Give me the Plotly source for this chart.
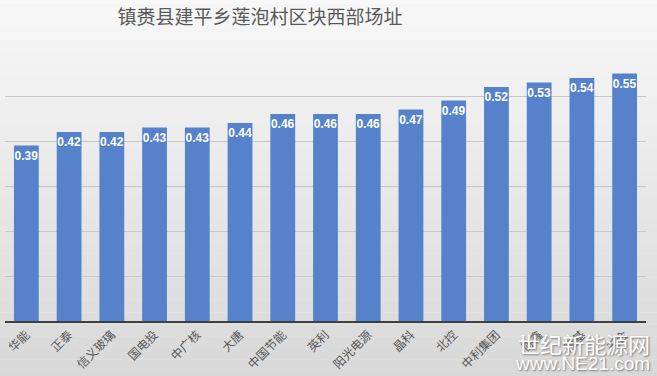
import plotly.graph_objects as go

categories = ["华能", "正泰", "信义玻璃", "国电投", "中广核", "大唐", "中国节能", "英利",
              "阳光电源", "晶科", "北控", "中利集团", "协鑫", "隆基", "天合"]
values = [0.39, 0.42, 0.42, 0.43, 0.43, 0.44, 0.46, 0.46, 0.46, 0.47, 0.49, 0.52, 0.53, 0.54, 0.55]
title_text = "镇赉县建平乡莲泡村区块西部场址"

FONT = "Noto Sans CJK SC"

fig = go.Figure()
fig.add_trace(go.Bar(
    x=categories, y=values,
    marker=dict(color="#5681cb", line=dict(width=0)),
    text=[f"{v:.2f}" for v in values],
    textposition="inside", insidetextanchor="end",
    constraintext="none",
    textfont=dict(color="white", size=12, family="Liberation Sans", weight="bold"),
    textangle=0,
    cliponaxis=False,
    hoverinfo="skip",
))

# vertical gradient background with strips
shapes = []
n = 40
for i in range(n):
    t = i / (n - 1)
    c = int(250 - 38 * t)
    shapes.append(dict(type="rect", xref="paper", yref="paper", layer="below",
                       x0=-0.05, x1=1.05, y0=1.3 - (i + 1) * 1.75 / n, y1=1.3 - i * 1.75 / n,
                       fillcolor=f"rgb({c},{c},{c})", line=dict(width=0)))

fig.update_layout(
    width=657, height=376,
    margin=dict(l=5, r=11, t=51, b=55, autoexpand=False),
    paper_bgcolor="#ececec",
    plot_bgcolor="rgba(0,0,0,0)",
    shapes=shapes,
    showlegend=False,
    bargap=0.42,
    title=dict(text=title_text, x=260 / 657, xanchor="center", y=0.955, yanchor="middle",
               font=dict(family=FONT, size=19, color="#595959")),
    xaxis=dict(tickangle=-45, tickfont=dict(family=FONT, size=12, color="#595959"),
               showline=True, linecolor="#404040", linewidth=2, ticks="",
               automargin=False, showgrid=False),
    yaxis=dict(range=[0, 0.6], dtick=0.1, showticklabels=False, showgrid=True,
               gridcolor="#c8c8c8", gridwidth=1, zeroline=False, automargin=False),
    annotations=[
        dict(text="世纪新能源网", xref="paper", yref="paper", x=1.01, y=-0.015,
             xanchor="right", yanchor="top", showarrow=False,
             font=dict(family=FONT, size=22, color="white", shadow="1px 1px 2px #777")),
        dict(text="www.NE21.com", xref="paper", yref="paper", x=1.01, y=-0.11,
             xanchor="right", yanchor="top", showarrow=False,
             font=dict(family="Liberation Sans", size=19, color="white", shadow="1px 1px 2px #777")),
    ],
)

fig.write_html("out.html", config={"displayModeBar": False},
               post_script="document.body.style.margin='0';document.body.style.overflow='hidden';")
